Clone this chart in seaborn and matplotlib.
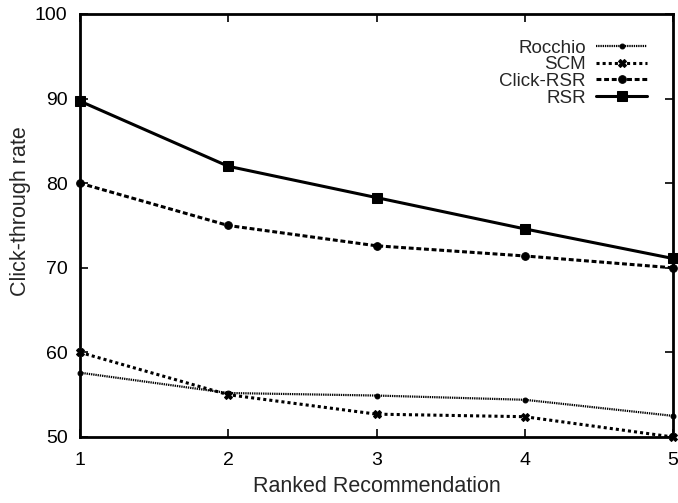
import numpy as np
import matplotlib
matplotlib.use("Agg")
import matplotlib.pyplot as plt
import seaborn as sns
import pandas as pd

ranks = [1, 2, 3, 4, 5]
rocchio = [57.6, 55.2, 54.9, 54.4, 52.5]
scm = [60.0, 55.0, 52.7, 52.4, 50.0]
click_rsr = [80.0, 75.0, 72.6, 71.4, 70.0]
rsr = [89.7, 82.0, 78.3, 74.6, 71.1]

sns.set_style("ticks")
plt.rcParams['font.family'] = ['Liberation Sans', 'DejaVu Sans']
plt.rcParams['xtick.direction'] = 'in'
plt.rcParams['ytick.direction'] = 'in'

fig = plt.figure(figsize=(6.78, 5.03), dpi=100)
ax = fig.add_axes([80 / 678, 1 - 437 / 503, 593 / 678, 423 / 503])

series = [
    ("Rocchio", rocchio, (0, (0.6, 0.4)), 1.6, 'o', 3.5),
    ("SCM", scm, (0, (1, 1)), 2.2, 'X', 5.5),
    ("Click-RSR", click_rsr, (0, (1.6, 0.9)), 2.2, 'o', 5.5),
    ("RSR", rsr, '-', 2.2, 's', 7),
]
for name, vals, ls, lw, mk, ms in series:
    df = pd.DataFrame({"rank": ranks, "ctr": vals})
    sns.lineplot(data=df, x="rank", y="ctr", ax=ax, color='black', linestyle=ls,
                 linewidth=lw, marker=mk, markersize=ms, markeredgecolor='black',
                 label=name, clip_on=False)

ax.set_xlim(1, 5)
ax.set_ylim(50, 100)
ax.set_xticks(ranks)
ax.set_yticks([50, 60, 70, 80, 90, 100])
ax.tick_params(axis='both', which='both', top=True, right=True, length=6,
               width=1.2, labelsize=14, colors='black')
ax.tick_params(axis='y', pad=9)
ax.tick_params(axis='x', pad=11)
for s in ax.spines.values():
    s.set_linewidth(2)
    s.set_color('black')
ax.set_xlabel("Ranked Recommendation", fontsize=15.5, labelpad=5)
ax.set_ylabel("Click-through rate", fontsize=15.5)
ax.yaxis.set_label_coords(-0.083, 0.534)

leg = ax.legend(loc='upper right', bbox_to_anchor=(0.956, 0.94), frameon=False,
                markerfirst=False, fontsize=13.5, handlelength=2.7,
                labelspacing=-0.02, borderaxespad=0, borderpad=0,
                handletextpad=0.55)
for t in leg.get_texts():
    t.set_ha('right')

fig.savefig("out.png", dpi=100)
